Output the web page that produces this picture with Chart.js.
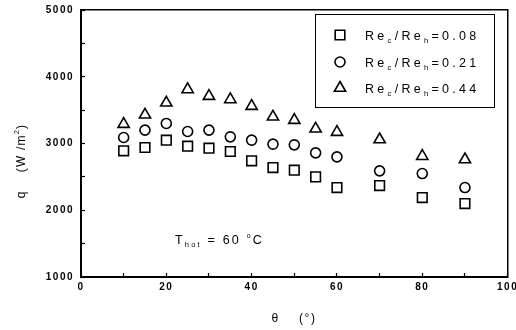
<!DOCTYPE html>
<html>
<head>
<meta charset="utf-8">
<script src="https://cdn.jsdelivr.net/npm/chart.js@4/dist/chart.umd.min.js"></script>
<style>
html,body{margin:0;padding:0;background:#fff;}
canvas{display:block;}
</style>
</head>
<body>
<canvas id="c" width="516" height="330"></canvas>
<script>
const theta = [10, 15, 20, 25, 30, 35, 40, 45, 50, 55, 60, 70, 80, 90];
const ratio008 = [2890, 2940, 3050, 2960, 2930, 2880, 2740, 2640, 2600, 2500, 2340, 2370, 2190, 2100];
const ratio021 = [3090, 3200, 3300, 3180, 3200, 3100, 3050, 2990, 2980, 2860, 2800, 2590, 2550, 2340];
const ratio044 = [3290, 3430, 3610, 3810, 3710, 3660, 3560, 3400, 3350, 3220, 3170, 3060, 2810, 2760];
const seriesNames = ['0.08', '0.21', '0.44'];
const xTicks = [0, 10, 20, 30, 40, 50, 60, 70, 80, 90, 100];
const xLabelled = [0, 20, 40, 60, 80, 100];
const yTicks = [1000, 1500, 2000, 2500, 3000, 3500, 4000, 4500, 5000];
const yLabelled = [1000, 2000, 3000, 4000, 5000];

const FONT = '"Liberation Sans", Arial, sans-serif';

function pts(ys) { return theta.map((t, i) => ({ x: t, y: ys[i] })); }

function drawRich(ctx, x, y, segs, spacing) {
  ctx.letterSpacing = spacing;
  let cx = x;
  for (const s of segs) {
    ctx.font = s.size + 'px ' + FONT;
    ctx.fillText(s.t, cx, y + (s.dy || 0));
    cx += ctx.measureText(s.t).width;
  }
  return cx - x;
}
function richWidth(ctx, segs, spacing) {
  ctx.letterSpacing = spacing;
  let w = 0;
  for (const s of segs) {
    ctx.font = s.size + 'px ' + FONT;
    w += ctx.measureText(s.t).width;
  }
  return w;
}

const deco = {
  id: 'deco',
  beforeDraw(chart) {
    chart.ctx.letterSpacing = '1.5px';
  },
  afterDraw(chart) {
    const ctx = chart.ctx;
    ctx.save();
    ctx.fillStyle = '#000';
    ctx.textBaseline = 'alphabetic';
    ctx.textAlign = 'left';
    // legend box
    ctx.fillRect(315, 14, 180, 1);
    ctx.fillRect(315, 107, 180, 1);
    ctx.fillRect(315, 14, 1, 94);
    ctx.fillRect(494, 14, 1, 94);
    const rows = [35, 62, 88];
    chart.data.datasets.forEach((ds, i) => {
      ctx.save();
      ctx.lineWidth = ds.borderWidth;
      ctx.strokeStyle = ds.borderColor;
      ctx.fillStyle = ds.backgroundColor;
      Chart.helpers.drawPoint(ctx, { pointStyle: ds.pointStyle, radius: ds.pointRadius, rotation: 0, borderWidth: ds.borderWidth }, 340, rows[i]);
      ctx.restore();
      drawRich(ctx, 365, rows[i] + 4.5, [
        { t: 'Re', size: 12.5 }, { t: 'c', size: 7.5, dy: 3 },
        { t: '/Re', size: 12.5 }, { t: 'h', size: 7.5, dy: 3 },
        { t: '=' + seriesNames[i], size: 12.5 }
      ], '3.3px');
    });
    // annotation
    drawRich(ctx, 175, 244, [
      { t: 'T', size: 12.5 }, { t: 'hot', size: 7.5, dy: 3 },
      { t: ' = 60 ', size: 12.5 }, { t: 'o', size: 7, dy: -6 }, { t: 'C', size: 12.5 }
    ], '2.2px');
    // x title
    const xt = [{ t: 'θ', size: 12 }, { t: '    (', size: 12 }, { t: '°', size: 12 }, { t: ')', size: 12 }];
    const xw = richWidth(ctx, xt, '1.5px');
    drawRich(ctx, 294 - xw / 2, 322, xt, '1.5px');
    // y title
    ctx.save();
    ctx.translate(21, 161);
    ctx.rotate(-Math.PI / 2);
    const yt = [{ t: 'q', size: 12 }, { t: '    (W', size: 12 }, { t: ' /m', size: 12 }, { t: '2', size: 7.5, dy: -6 }, { t: ')', size: 12 }];
    const yw = richWidth(ctx, yt, '1.2px');
    drawRich(ctx, -yw / 2, 4, yt, '1.2px');
    ctx.restore();
    ctx.restore();
  }
};

const tickFont = { family: FONT, size: 10, weight: 'bold' };
const inwardGrid = { display: true, drawOnChartArea: false, drawTicks: true, tickLength: -4, tickColor: '#000', tickWidth: 1.2 };

new Chart(document.getElementById('c'), {
  type: 'scatter',
  data: {
    datasets: [
      { label: 'Re_c/Re_h=0.08', data: pts(ratio008), pointStyle: 'rect', pointRadius: 6.8, pointHoverRadius: 6.8, borderColor: '#000', backgroundColor: '#fff', borderWidth: 1.6 },
      { label: 'Re_c/Re_h=0.21', data: pts(ratio021), pointStyle: 'circle', pointRadius: 5, pointHoverRadius: 5, borderColor: '#000', backgroundColor: '#fff', borderWidth: 1.6 },
      { label: 'Re_c/Re_h=0.44', data: pts(ratio044), pointStyle: 'triangle', pointRadius: 6.5, pointHoverRadius: 6.5, borderColor: '#000', backgroundColor: '#fff', borderWidth: 1.6 }
    ]
  },
  options: {
    responsive: false,
    animation: false,
    events: [],
    layout: { padding: { top: 10, right: 8, left: 0, bottom: 0 } },
    plugins: { legend: { display: false }, tooltip: { enabled: false } },
    scales: {
      x: {
        type: 'linear', position: 'bottom', min: 0, max: 100,
        afterFit(s) { s.height = 53; s.paddingLeft = 0; s.paddingRight = 0; },
        afterBuildTicks(s) { s.ticks = xTicks.map(v => ({ value: v })); },
        grid: inwardGrid,
        border: { display: true, color: '#000', width: 2 },
        ticks: { color: '#000', padding: 8, font: tickFont, maxRotation: 0, autoSkip: false,
          callback: v => xLabelled.includes(v) ? String(v) : '' }
      },
      y: {
        type: 'linear', position: 'left', min: 1000, max: 5000,
        afterFit(s) { s.width = 81; s.paddingTop = 0; s.paddingBottom = 0; },
        afterBuildTicks(s) { s.ticks = yTicks.map(v => ({ value: v })); },
        grid: inwardGrid,
        border: { display: true, color: '#000', width: 2 },
        ticks: { color: '#000', padding: 11, font: tickFont, autoSkip: false,
          callback: v => yLabelled.includes(v) ? String(v) : '' }
      },
      x2: {
        type: 'linear', position: 'top', min: 0, max: 100, display: true,
        afterFit(s) { s.height = 0; s.paddingLeft = 0; s.paddingRight = 0; },
        grid: { display: false, drawTicks: false },
        border: { display: true, color: '#000', width: 1.5 },
        ticks: { display: false }
      },
      y2: {
        type: 'linear', position: 'right', min: 1000, max: 5000, display: true,
        afterFit(s) { s.width = 0; s.paddingTop = 0; s.paddingBottom = 0; },
        grid: { display: false, drawTicks: false },
        border: { display: true, color: '#000', width: 1.5 },
        ticks: { display: false }
      }
    }
  },
  plugins: [deco]
});
</script>
</body>
</html>
